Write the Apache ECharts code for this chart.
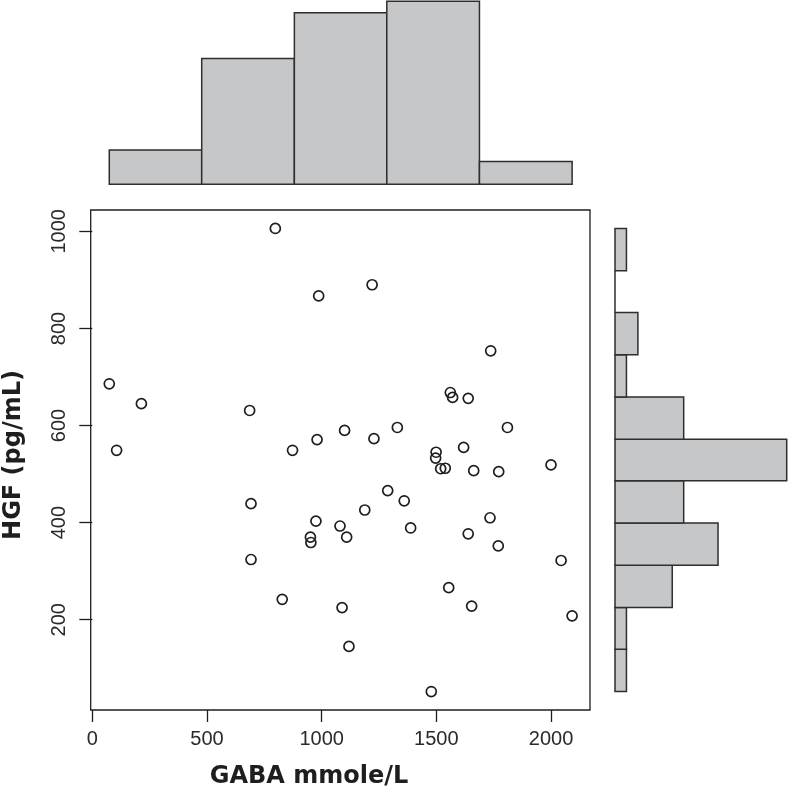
<!DOCTYPE html>
<html>
<head>
<meta charset="utf-8">
<script src="https://cdn.jsdelivr.net/npm/echarts@6/dist/echarts.min.js"></script>
<style>
  html, body { margin: 0; padding: 0; background: #fff; }
  #chart { width: 788px; height: 788px; }
</style>
</head>
<body>
<div id="chart"></div>
<script>
// scatter points
const gabaValues = [
  74, 106, 214, 686, 692, 692, 798, 828, 873, 951, 953, 975, 980, 987, 1080, 1089,
  1100, 1109, 1119, 1188, 1220, 1228, 1288, 1330, 1360, 1388, 1478, 1497, 1499, 1519,
  1539, 1554, 1561, 1571, 1619, 1639, 1639, 1654, 1663, 1734, 1737, 1770, 1772, 1810,
  2000, 2044, 2092
]
const hgfValues = [
  686, 549, 645, 631, 439, 324, 1006, 242, 549, 370, 359, 403, 571, 867, 393, 225,
  590, 370, 145, 426, 890, 573, 466, 596, 445, 389, 52, 533, 545, 511,
  512, 266, 668, 658, 555, 656, 377, 228, 507, 410, 754, 352, 505, 596,
  519, 322, 208
]

// marginal histograms: bin breaks and counts per bin
const gabaBreaks = [74, 477, 881, 1284, 1688, 2092]
const gabaCounts = [3, 11, 15, 16, 2]
const hgfBreaks = [52, 139, 225, 312, 399, 486, 572, 659, 746, 833, 919, 1006]
const hgfCounts = [1, 1, 5, 9, 6, 15, 6, 1, 2, 0, 1]

const xTicks = [0, 500, 1000, 1500, 2000]
const yTicks = [200, 400, 600, 800, 1000]

const ink = '#1e1e1e'
const barFill = '#c6c7c9'
const barLine = '#2e2e2e'
const xRange = { min: -7, max: 2170 }
const yRange = { min: 14, max: 1044 }

const histRect = (horizontal) => (params, api) => {
  const a = api.value(0)
  const b = api.value(1)
  const n = api.value(2)
  const p0 = horizontal ? api.coord([0, a]) : api.coord([a, 0])
  const p1 = horizontal ? api.coord([n, b]) : api.coord([b, n])
  const style = { fill: barFill, stroke: barLine, lineWidth: 1.5 }
  // empty bin: R still draws a flat rectangle, i.e. a line
  if (n === 0) {
    return { type: 'line', shape: { x1: p0[0], y1: p0[1], x2: p1[0], y2: p1[1] }, style }
  }
  return {
    type: 'rect',
    shape: {
      x: Math.min(p0[0], p1[0]),
      y: Math.min(p0[1], p1[1]),
      width: Math.abs(p1[0] - p0[0]),
      height: Math.abs(p1[1] - p0[1]),
    },
    style,
  }
}

const chart = echarts.init(document.getElementById('chart'), null, { renderer: 'canvas' })

const tickLabel = {
  fontFamily: '"Liberation Sans", Arial, sans-serif',
  fontSize: 20,
  color: '#2a2a2a',
  formatter: (v) => String(v),
}

chart.setOption({
  backgroundColor: '#fff',
  animation: false,
  grid: [
    { left: 90.7, top: 210, right: 198, bottom: 78, show: true, borderColor: ink, borderWidth: 1.3, backgroundColor: 'transparent' },
    { left: 90.7, top: 1.3, right: 198, bottom: 603.7 },
    { left: 615, top: 210, right: 1.3, bottom: 78 },
  ],
  xAxis: [
    {
      gridIndex: 0,
      type: 'value',
      ...xRange,
      splitLine: { show: false },
      axisLine: { show: false },
      axisTick: { show: true, length: 12, customValues: xTicks, lineStyle: { color: ink, width: 1.3 } },
      axisLabel: { ...tickLabel, customValues: xTicks, margin: 19 },
    },
    { gridIndex: 1, type: 'value', ...xRange, show: false },
    { gridIndex: 2, type: 'value', min: 0, max: 15, show: false },
  ],
  yAxis: [
    {
      gridIndex: 0,
      type: 'value',
      ...yRange,
      splitLine: { show: false },
      axisLine: { show: false },
      axisTick: { show: true, length: 13, customValues: yTicks, lineStyle: { color: ink, width: 1.3 } },
      axisLabel: { ...tickLabel, customValues: yTicks, rotate: 90, margin: 21 },
    },
    { gridIndex: 1, type: 'value', min: 0, max: 16, show: false },
    { gridIndex: 2, type: 'value', ...yRange, show: false },
  ],
  series: [
    {
      type: 'scatter',
      xAxisIndex: 0,
      yAxisIndex: 0,
      data: gabaValues.map((g, i) => [g, hgfValues[i]]),
      symbol: 'circle',
      symbolSize: 10,
      itemStyle: { color: 'rgba(0,0,0,0)', borderColor: ink, borderWidth: 1.7, opacity: 1 },
    },
    {
      type: 'custom',
      xAxisIndex: 1,
      yAxisIndex: 1,
      data: gabaCounts.map((n, i) => [gabaBreaks[i], gabaBreaks[i + 1], n]),
      renderItem: histRect(false),
    },
    {
      type: 'custom',
      xAxisIndex: 2,
      yAxisIndex: 2,
      data: hgfCounts.map((n, i) => [hgfBreaks[i], hgfBreaks[i + 1], n]),
      renderItem: histRect(true),
    },
  ],
  graphic: [
    {
      type: 'text',
      x: 309,
      y: 777,
      style: {
        text: 'GABA mmole/L',
        font: 'bold 24px "DejaVu Sans"',
        fill: ink,
        align: 'center',
        verticalAlign: 'middle',
      },
    },
    {
      type: 'text',
      x: 14,
      y: 455,
      rotation: Math.PI / 2,
      style: {
        text: 'HGF (pg/mL)',
        font: 'bold 24px "DejaVu Sans"',
        fill: ink,
        align: 'center',
        verticalAlign: 'middle',
      },
    },
  ],
})
</script>
</body>
</html>
